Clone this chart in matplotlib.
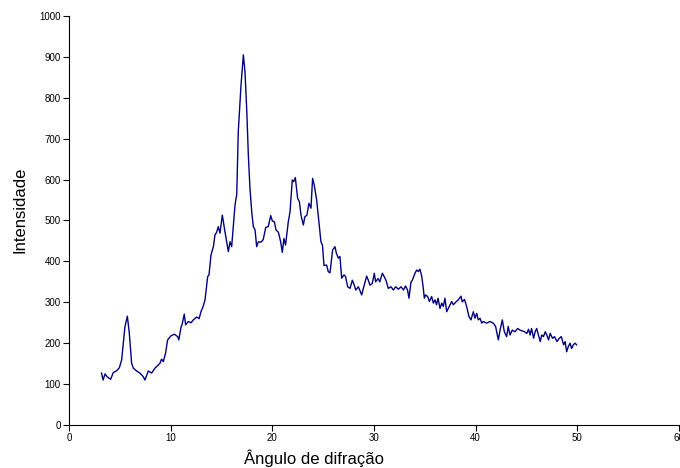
import matplotlib
matplotlib.use("Agg")
import matplotlib.pyplot as plt

# angle (degrees) and intensity
angulo = [3.2, 3.35, 3.55, 3.75, 3.9, 4.1, 4.35, 4.7, 4.95, 5.18, 5.5, 5.74, 5.93,
          6.16, 6.33, 6.65, 6.98, 7.31, 7.47, 7.8, 8.13, 8.46, 8.95, 9.1, 9.28, 9.5,
          9.7, 10.03, 10.36, 10.69, 10.8, 11.02, 11.1, 11.34, 11.47, 11.74, 12.0,
          12.23, 12.56, 12.8, 12.98, 13.21, 13.38, 13.64, 13.77, 13.97, 14.2, 14.36,
          14.5, 14.69, 14.85, 15.08, 15.34, 15.67, 15.84, 16.0, 16.33, 16.5, 16.65,
          16.92, 17.15, 17.31, 17.49, 17.64, 17.8, 17.97, 18.13, 18.3, 18.46, 18.63,
          18.88, 19.1, 19.35, 19.6, 19.84, 20.0, 20.2, 20.36, 20.6, 20.82, 20.98,
          21.14, 21.3, 21.57, 21.74, 21.96, 22.1, 22.26, 22.49, 22.66, 22.82, 23.05,
          23.2, 23.4, 23.6, 23.8, 23.96, 24.12, 24.36, 24.59, 24.78, 24.93, 25.08,
          25.34, 25.5, 25.67, 25.93, 26.16, 26.3, 26.49, 26.65, 26.82, 27.05, 27.2,
          27.41, 27.64, 27.87, 28.06, 28.2, 28.46, 28.79, 28.95, 29.28, 29.44, 29.6,
          29.83, 30.03, 30.16, 30.4, 30.57, 30.82, 31.0, 31.17, 31.41, 31.67, 31.9,
          32.13, 32.4, 32.66, 32.9, 33.1, 33.3, 33.44, 33.64, 33.77, 34.03, 34.2,
          34.36, 34.52, 34.7, 34.85, 34.95, 35.08, 35.28, 35.45, 35.67, 35.84, 36.0,
          36.15, 36.3, 36.49, 36.66, 36.82, 36.98, 37.15, 37.31, 37.48, 37.64, 37.8,
          38.1, 38.3, 38.56, 38.68, 38.9, 39.12, 39.34, 39.54, 39.77, 39.93, 40.1,
          40.26, 40.43, 40.6, 40.75, 41.08, 41.4, 41.73, 41.96, 42.23, 42.4, 42.62,
          42.82, 43.05, 43.2, 43.38, 43.6, 43.87, 44.13, 44.36, 44.8, 45.03, 45.2,
          45.36, 45.5, 45.7, 45.85, 46.0, 46.18, 46.35, 46.5, 46.67, 46.84, 47.0,
          47.17, 47.33, 47.56, 47.76, 48.0, 48.22, 48.42, 48.65, 48.8, 48.95, 49.1,
          49.28, 49.44, 49.6, 49.77, 49.93]
intensidade = [127, 110, 125, 118, 115, 112, 128, 133, 140, 159, 240, 266, 225,
               151, 139, 132, 127, 118, 110, 132, 127, 139, 151, 161, 155, 176,
               208, 218, 222, 216, 208, 240, 243, 271, 245, 253, 250,
               257, 264, 260, 277, 291, 306, 363, 367, 416, 436, 465,
               470, 485, 469, 513, 473, 424, 448, 436, 538, 564, 717,
               831, 905, 864, 766, 660, 579, 522, 485, 477, 436, 448,
               447, 453, 483, 485, 512, 499, 497, 477, 471, 448, 422,
               456, 440, 497, 521, 599, 595, 605, 554, 546, 513, 489,
               509, 513, 542, 530, 603, 587, 550, 494, 448, 440, 390,
               391, 375, 372, 428, 436, 420, 408, 412, 359, 367, 363,
               338, 334, 354, 342, 330, 338, 318, 334, 364, 354, 342,
               346, 371, 350, 358, 350, 371, 363, 354, 334, 338, 330,
               338, 332, 338, 330, 340, 330, 310, 350, 354, 371, 379,
               375, 381, 363, 334, 310, 318, 314, 302, 314, 298, 306,
               294, 310, 285, 298, 290, 310, 277, 285, 294, 302, 294,
               302, 306, 315, 301, 307, 289, 265, 257, 277, 261, 273,
               257, 261, 249, 253, 249, 253, 249, 241, 208, 232, 257,
               228, 216, 241, 220, 232, 228, 236, 232, 228, 224, 234,
               220, 236, 212, 228, 236, 220, 204, 220, 216, 228, 220,
               208, 224, 212, 216, 204, 212, 216, 196, 204, 179, 191,
               200, 187, 196, 200, 196]

plt.rcParams['font.family'] = ['Liberation Sans', 'DejaVu Sans']

fig = plt.figure(figsize=(6.8, 4.68), dpi=100)
ax = fig.add_axes([69 / 680, 43 / 468, 610 / 680, 409 / 468])

ax.plot(angulo, intensidade, color='#000080', linewidth=1.0)

ax.set_xlim(0, 60)
ax.set_ylim(0, 1000)
ax.set_xticks(range(0, 61, 10))
ax.set_yticks(range(0, 1001, 100))
ax.tick_params(axis='both', direction='out', length=4, width=0.8,
               labelsize=7, pad=2, color='black')
for side in ['top', 'right']:
    ax.spines[side].set_visible(False)
for side in ['left', 'bottom']:
    ax.spines[side].set_linewidth(0.8)

fig.text(314 / 680, 1 - 458 / 468, 'Ângulo de difração', ha='center', va='center',
         fontsize=12)
fig.text(20 / 680, 1 - 210 / 468, 'Intensidade', ha='center', va='center',
         rotation=90, fontsize=12)

fig.savefig('out.png', dpi=100)
